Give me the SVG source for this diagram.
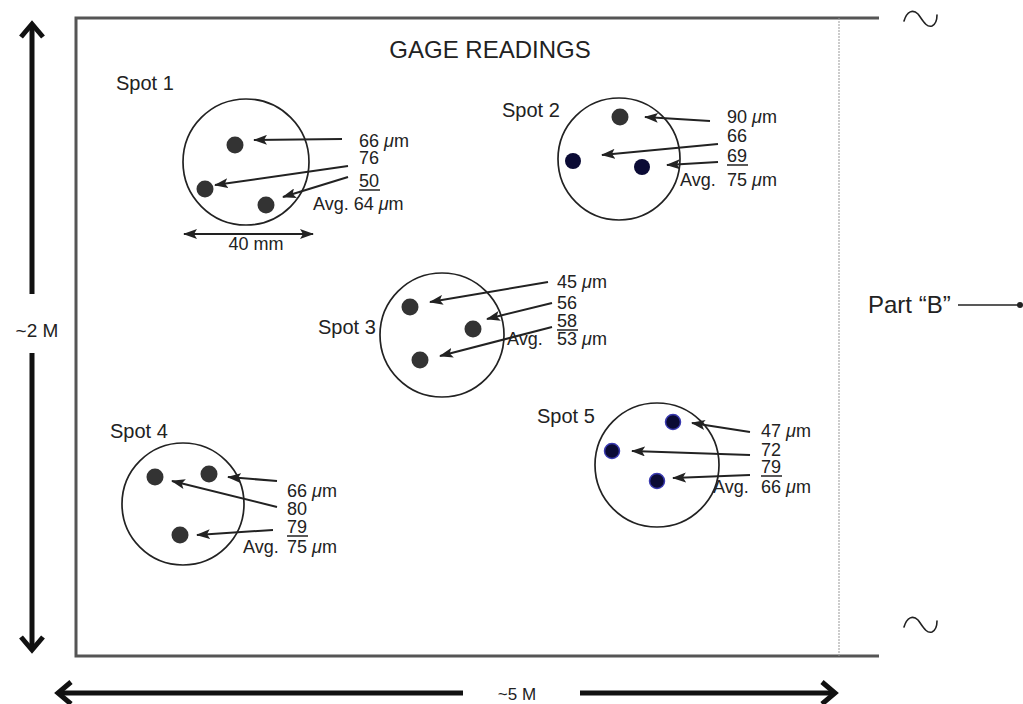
<svg xmlns="http://www.w3.org/2000/svg" width="1023" height="704" viewBox="0 0 1023 704">
<style>
text{font-family:"Liberation Sans",Arial,sans-serif;fill:#222}
.num{font-size:18px}
.lbl{font-size:20px}
.ring{fill:none;stroke:#222;stroke-width:1.7}
.dot{fill:#333}
.navy{fill:#0b0b35}
.navyh{fill:#0b0b35;stroke:#3a3ab0;stroke-width:1.5}
.ptr{fill:none;stroke:#222;stroke-width:2;marker-end:url(#ah)}
.ul{stroke:#222;stroke-width:1.5}
.big{fill:none;stroke:#111;stroke-width:5}
.tilde{fill:none;stroke:#222;stroke-width:1.6;stroke-linecap:round}
</style>
<defs>
<marker id="ah" viewBox="0 0 14 10" refX="13" refY="5" markerWidth="14" markerHeight="10" markerUnits="userSpaceOnUse" orient="auto"><path d="M0,0 L14,5 L0,10 L3,5 z" fill="#222"/></marker>
<marker id="ah2" viewBox="0 0 14 10" refX="13" refY="5" markerWidth="14" markerHeight="10" markerUnits="userSpaceOnUse" orient="auto-start-reverse"><path d="M0,0 L14,5 L0,10 L3,5 z" fill="#222"/></marker>
</defs>
<rect width="1023" height="704" fill="#fff"/>

<g id="frame">
<path d="M879,18 H76 V656 H879" fill="none" stroke="#555" stroke-width="3"/>
<line x1="839" y1="18" x2="839" y2="656" stroke="#999" stroke-width="1" stroke-dasharray="2,1"/>
<path d="M904,21 C907,11 913,9 918,14 C922,19 926,28 932,26 C936,24 937,20 937,15" class="tilde"/>
<path d="M904,627 C907,617 913,615 918,620 C922,625 926,634 932,632 C936,630 937,626 937,621" class="tilde"/>
<text x="490" y="58" font-size="24" text-anchor="middle">GAGE READINGS</text>
</g>

<g id="partB">
<text x="868" y="313" font-size="24">Part “B”</text>
<line x1="958" y1="305" x2="1020" y2="305" stroke="#222" stroke-width="1.5"/>
<circle cx="1020" cy="305" r="3" fill="#222"/>
</g>

<g id="dim-height">
<line x1="32" y1="25" x2="32" y2="294" class="big"/>
<path d="M21,37 L32,24 L43,37" class="big"/>
<text x="37" y="337" font-size="19" text-anchor="middle">~2 M</text>
<line x1="32" y1="353" x2="32" y2="649" class="big"/>
<path d="M21,637 L32,650 L43,637" class="big"/>
</g>

<g id="dim-width">
<line x1="59" y1="693" x2="463" y2="693" class="big"/>
<path d="M71,682 L58,693 L71,704" class="big"/>
<text x="517" y="700" font-size="17" text-anchor="middle">~5 M</text>
<line x1="580" y1="693" x2="834" y2="693" class="big"/>
<path d="M822,682 L835,693 L822,704" class="big"/>
</g>

<g id="spot1">
<text x="116" y="90" class="lbl">Spot 1</text>
<circle cx="246" cy="162" r="63" class="ring"/>
<circle cx="235" cy="145" r="8.5" class="dot"/>
<circle cx="205" cy="189" r="8.5" class="dot"/>
<circle cx="266" cy="205" r="8.5" class="dot"/>
<text x="359" y="147" class="num">66 <tspan font-style="italic">μ</tspan>m</text>
<text x="359" y="164" class="num">76</text>
<text x="359" y="187" class="num">50</text>
<line x1="359" y1="190" x2="380" y2="190" class="ul"/>
<text x="313" y="210" class="num">Avg. 64 <tspan font-style="italic">μ</tspan>m</text>
<line x1="184" y1="234" x2="313" y2="234" stroke="#222" stroke-width="2" marker-start="url(#ah2)" marker-end="url(#ah2)"/>
<text x="256" y="250" class="num" text-anchor="middle">40 mm</text>
</g>

<g id="spot2">
<text x="502" y="117" class="lbl">Spot 2</text>
<circle cx="619" cy="159" r="61" class="ring"/>
<circle cx="620" cy="117" r="8.5" class="dot"/>
<circle cx="573" cy="161" r="8" class="navy"/>
<circle cx="642" cy="167" r="8" class="navy"/>
<text x="727" y="123" class="num">90 <tspan font-style="italic">μ</tspan>m</text>
<text x="727" y="142" class="num">66</text>
<text x="727" y="162" class="num">69</text>
<line x1="727" y1="165" x2="748" y2="165" class="ul"/>
<text x="680" y="186" class="num">Avg.<tspan x="727">75 </tspan><tspan font-style="italic">μ</tspan>m</text>
</g>

<g id="spot3">
<text x="318" y="334" class="lbl">Spot 3</text>
<circle cx="442" cy="335" r="62" class="ring"/>
<circle cx="410" cy="307" r="8.5" class="dot"/>
<circle cx="473" cy="329" r="8.5" class="dot"/>
<circle cx="420" cy="360" r="8.5" class="dot"/>
<text x="557" y="288" class="num">45 <tspan font-style="italic">μ</tspan>m</text>
<text x="557" y="309" class="num">56</text>
<text x="557" y="327" class="num">58</text>
<line x1="557" y1="330" x2="578" y2="330" class="ul"/>
<text x="507" y="345" class="num">Avg.<tspan x="557">53 </tspan><tspan font-style="italic">μ</tspan>m</text>
</g>

<g id="spot4">
<text x="110" y="438" class="lbl">Spot 4</text>
<circle cx="183" cy="504" r="61" class="ring"/>
<circle cx="155" cy="477" r="8.5" class="dot"/>
<circle cx="209" cy="474" r="8.5" class="dot"/>
<circle cx="180" cy="535" r="8.5" class="dot"/>
<text x="287" y="497" class="num">66 <tspan font-style="italic">μ</tspan>m</text>
<text x="287" y="515" class="num">80</text>
<text x="287" y="533" class="num">79</text>
<line x1="287" y1="536" x2="308" y2="536" class="ul"/>
<text x="243" y="553" class="num">Avg.<tspan x="287">75 </tspan><tspan font-style="italic">μ</tspan>m</text>
</g>

<g id="spot5">
<text x="537" y="423" class="lbl">Spot 5</text>
<circle cx="657" cy="465" r="62" class="ring"/>
<circle cx="673" cy="422" r="7.5" class="navyh"/>
<circle cx="612" cy="451" r="7.5" class="navyh"/>
<circle cx="657" cy="481" r="7.5" class="navyh"/>
<text x="761" y="437" class="num">47 <tspan font-style="italic">μ</tspan>m</text>
<text x="761" y="456" class="num">72</text>
<text x="761" y="473" class="num">79</text>
<line x1="761" y1="476" x2="782" y2="476" class="ul"/>
<text x="713" y="493" class="num">Avg.<tspan x="761">66 </tspan><tspan font-style="italic">μ</tspan>m</text>
</g>

<g id="connectors">
<path d="M342,139 L254,140" class="ptr"/>
<path d="M348,166 L215,185" class="ptr"/>
<path d="M348,177 L283,197" class="ptr"/>
<path d="M710,121 L645,117" class="ptr"/>
<path d="M718,144 L602,155" class="ptr"/>
<path d="M718,162 L667,165" class="ptr"/>
<path d="M548,282 L430,302" class="ptr"/>
<path d="M552,303 L487,319" class="ptr"/>
<path d="M552,327 L440,356" class="ptr"/>
<path d="M277,481 L228,477" class="ptr"/>
<path d="M277,507 L172,481" class="ptr"/>
<path d="M273,530 L197,535" class="ptr"/>
<path d="M750,432 L692,423" class="ptr"/>
<path d="M750,455 L632,451" class="ptr"/>
<path d="M750,475 L673,478" class="ptr"/>
</g>
</svg>
